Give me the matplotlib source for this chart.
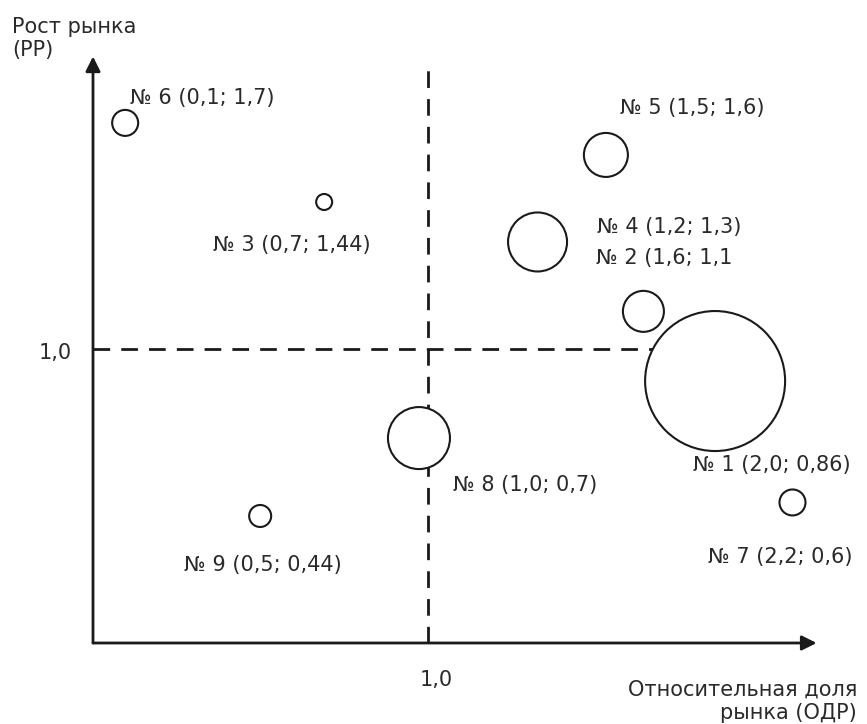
import matplotlib
matplotlib.use('Agg')
import matplotlib.pyplot as plt

plt.rcParams['font.family'] = ['DejaVu Sans']

# позиции кругов (ОДР, РР), как нарисованы на схеме
names = ['№ 1 (2,0; 0,86)', '№ 2 (1,6; 1,1', '№ 3 (0,7; 1,44)', '№ 4 (1,2; 1,3)',
         '№ 5 (1,5; 1,6)', '№ 6 (0,1; 1,7)', '№ 7 (2,2; 0,6)', '№ 8 (1,0; 0,7)',
         '№ 9 (0,5; 0,44)']
odr = [1.857, 1.643, 0.690, 1.327, 1.531, 0.096, 2.088, 0.973, 0.499]
rr = [0.891, 1.128, 1.500, 1.364, 1.660, 1.769, 0.478, 0.697, 0.432]
# относительный объём (радиус круга)
volume = [70, 20.5, 8, 29.5, 22, 13, 13, 31, 11]
# где подписи
label_x = [1.791, 1.501, 0.358, 1.504, 1.573, 0.110, 1.836, 1.075, 0.272]
label_y = [0.605, 1.310, 1.354, 1.415, 1.820, 1.854, 0.293, 0.537, 0.265]

ink = '#1a1a1a'
txt = '#2a2a2a'
fs = 15
dpi = 100
fig = plt.figure(figsize=(8.67, 7.24), dpi=dpi)
ax = fig.add_axes([0, 0, 1, 1])
ax.set_xlim(-0.2776, 2.3104)
ax.set_ylim(-0.2755, 2.187)
ax.axis('off')

# оси со стрелками
ax.annotate('', xy=(2.16, 0), xytext=(0, 0),
            arrowprops=dict(arrowstyle='-|>', lw=2, color=ink, mutation_scale=22,
                            shrinkA=0, shrinkB=0))
ax.annotate('', xy=(0, 1.995), xytext=(0, 0),
            arrowprops=dict(arrowstyle='-|>', lw=2, color=ink, mutation_scale=22,
                            shrinkA=0, shrinkB=0))

# пунктир по 1,0
ax.plot([1.0, 1.0], [0, 1.975], ls=(0, (6, 4)), lw=2, color=ink, zorder=1)
ax.plot([0, 1.85], [1.0, 1.0], ls=(0, (6, 4)), lw=2, color=ink, zorder=1)

sizes = [(2 * r * 72 / dpi) ** 2 for r in volume]
ax.scatter(odr, rr, s=sizes, facecolor='white', edgecolor=ink, linewidths=1.5, zorder=3)

for n, lx, ly in zip(names, label_x, label_y):
    ax.text(lx, ly, n, fontsize=fs, color=txt, ha='left', va='center')

ax.text(-0.063, 0.986, '1,0', fontsize=fs, color=txt, ha='right', va='center')
ax.text(1.024, -0.126, '1,0', fontsize=fs, color=txt, ha='center', va='center')

ax.text(-0.242, 2.095, 'Рост рынка', fontsize=fs, color=txt, ha='left', va='center')
ax.text(-0.242, 2.017, '(РР)', fontsize=fs, color=txt, ha='left', va='center')
ax.text(2.281, -0.160, 'Относительная доля', fontsize=fs, color=txt, ha='right', va='center')
ax.text(2.281, -0.238, 'рынка (ОДР)', fontsize=fs, color=txt, ha='right', va='center')

fig.savefig('out.png', dpi=dpi)
